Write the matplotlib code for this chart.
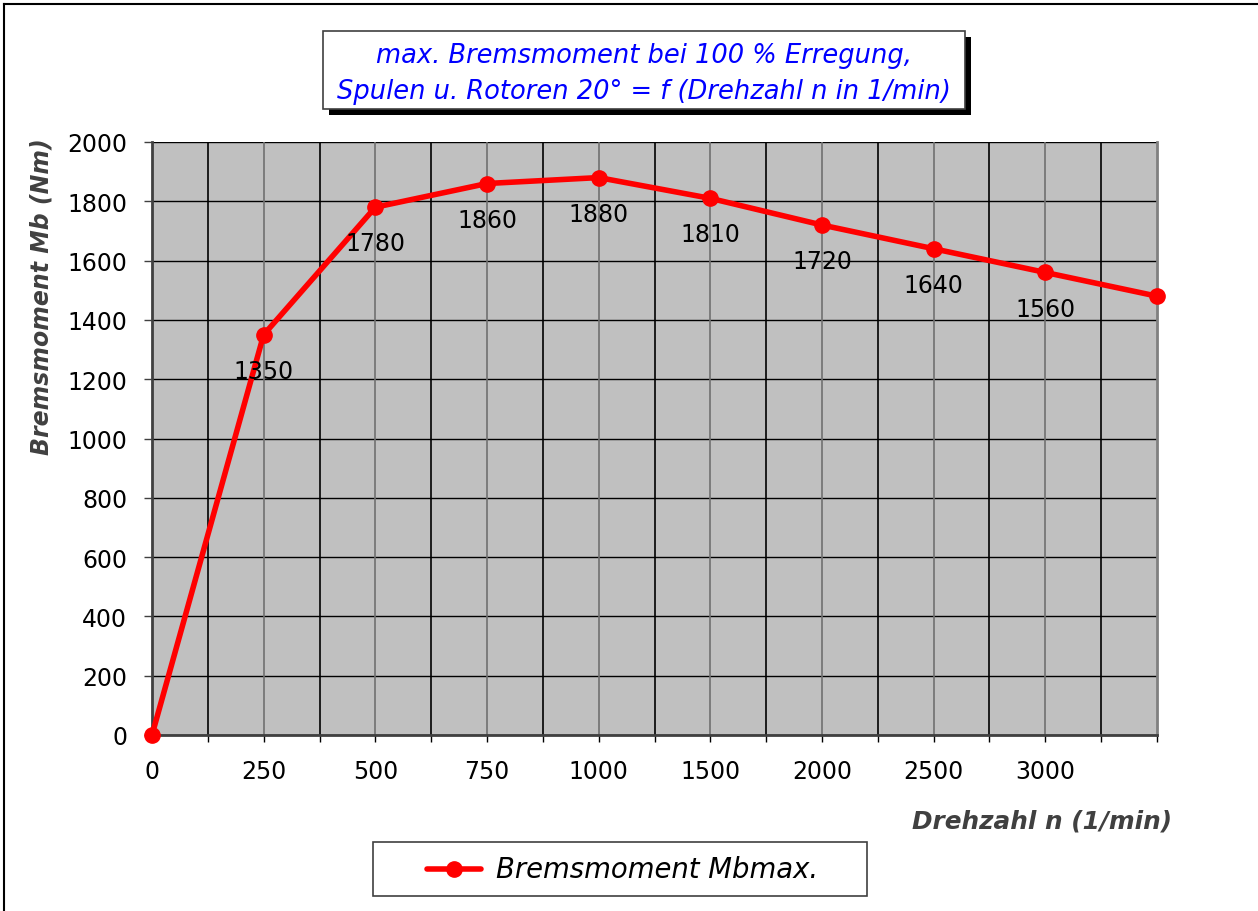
import matplotlib
matplotlib.use("Agg")
import matplotlib.pyplot as plt
from matplotlib.lines import Line2D
from matplotlib.patches import Rectangle

# Drehzahl categories and braking torque values
speed_labels = ["0", "250", "500", "750", "1000", "1500", "2000", "2500", "3000", ""]
torque = [0, 1350, 1780, 1860, 1880, 1810, 1720, 1640, 1560, 1480]
value_labels = ["", "1350", "1780", "1860", "1880", "1810", "1720", "1640", "1560", ""]
y_ticks = [0, 200, 400, 600, 800, 1000, 1200, 1400, 1600, 1800, 2000]

W, H = 1258, 912
fig = plt.figure(figsize=(W / 100, H / 100), dpi=100)
fig.patch.set_facecolor("white")

# plot area in pixel coordinates
x0, x1, yt, yb = 152, 1157, 143, 736
ax = fig.add_axes([x0 / W, 1 - yb / H, (x1 - x0) / W, (yb - yt) / H])
ax.set_facecolor("#c0c0c0")

pos = list(range(len(torque)))
ax.set_xlim(0, len(torque) - 1)
ax.set_ylim(0, 2000)

# grid: horizontal every 200, vertical every half category
for v in y_ticks:
    ax.axhline(v, color="black", lw=1.0, zorder=1)
n = len(torque) - 1
for k in range(1, 2 * n):
    xv = k / 2
    col = "#707070" if k % 2 == 0 else "black"
    ax.axvline(xv, color=col, lw=1.2, zorder=1)

ax.plot(pos, torque, color="#ff0000", lw=4, marker="o", ms=11,
        markerfacecolor="#ff0000", markeredgecolor="#ff0000", zorder=3,
        clip_on=False)

for p, v, lab in zip(pos, torque, value_labels):
    if lab:
        ax.annotate(lab, (p, v), xytext=(0, -26), textcoords="offset points",
                    ha="center", va="center", fontsize=17, color="black", zorder=4)

ax.set_yticks(y_ticks)
ax.set_yticklabels([str(v) for v in y_ticks], fontsize=17)
ax.set_xticks(pos)
ax.set_xticklabels(speed_labels, fontsize=17)
ax.set_xticks([k / 2 for k in range(0, 2 * n + 1)], minor=True)
ax.tick_params(axis="x", which="both", length=5, width=1, color="black",
               direction="out", pad=12)
ax.tick_params(axis="y", length=6, width=1, direction="out", pad=12,
               color="#404040")

for side in ["left", "bottom"]:
    ax.spines[side].set_color("#404040")
    ax.spines[side].set_linewidth(2)
for side in ["top", "right"]:
    ax.spines[side].set_color("#808080")
    ax.spines[side].set_linewidth(2)
ax.spines["top"].set_visible(False)

# axis titles
fig.text(42 / W, 1 - 297 / H, "Bremsmoment Mb (Nm)", rotation=90,
         ha="center", va="center", fontsize=17, fontweight="bold",
         fontstyle="italic", color="#404040")
fig.text(1172 / W, 1 - 821 / H, "Drehzahl n (1/min)", ha="right",
         va="center", fontsize=17.8, fontweight="bold", fontstyle="italic",
         color="#404040")

# title box with shadow
tb = (323, 32, 965, 110)
fig.patches.append(Rectangle((tb[0] / W + 6 / W, 1 - (tb[3] + 6) / H),
                             (tb[2] - tb[0]) / W, (tb[3] - tb[1]) / H,
                             transform=fig.transFigure, facecolor="black",
                             edgecolor="none", zorder=1))
fig.patches.append(Rectangle((tb[0] / W, 1 - tb[3] / H),
                             (tb[2] - tb[0]) / W, (tb[3] - tb[1]) / H,
                             transform=fig.transFigure, facecolor="white",
                             edgecolor="#404040", lw=1.2, zorder=2))
fig.text((tb[0] + tb[2]) / 2 / W, 1 - 74 / H,
         "max. Bremsmoment bei 100 % Erregung,\nSpulen u. Rotoren 20° = f (Drehzahl n in 1/min)",
         ha="center", va="center", fontsize=18.5, fontstyle="italic",
         color="#0000ff", linespacing=1.5, zorder=3)

# legend box
lb = (373, 843, 867, 897)
fig.patches.append(Rectangle((lb[0] / W, 1 - lb[3] / H),
                             (lb[2] - lb[0]) / W, (lb[3] - lb[1]) / H,
                             transform=fig.transFigure, facecolor="white",
                             edgecolor="#404040", lw=1.2, zorder=2))
ly = 1 - 870 / H
fig.lines.append(Line2D([427 / W, 481 / W], [ly, ly], transform=fig.transFigure,
                        color="#ff0000", lw=4, solid_capstyle="round", zorder=3))
fig.lines.append(Line2D([454 / W], [ly], transform=fig.transFigure,
                        color="#ff0000", marker="o", ms=11, zorder=4))
fig.text(496 / W, ly, "Bremsmoment Mbmax.", ha="left", va="center",
         fontsize=19.8, fontstyle="italic", color="black", zorder=4)

# outer chart frame (top and left edges)
fig.lines.append(Line2D([4 / W, 1], [1 - 5 / H, 1 - 5 / H], transform=fig.transFigure,
                        color="black", lw=1.5))
fig.lines.append(Line2D([4 / W, 4 / W], [0, 1 - 5 / H], transform=fig.transFigure,
                        color="black", lw=1.5))

fig.savefig("out.png", dpi=100, facecolor="white")
